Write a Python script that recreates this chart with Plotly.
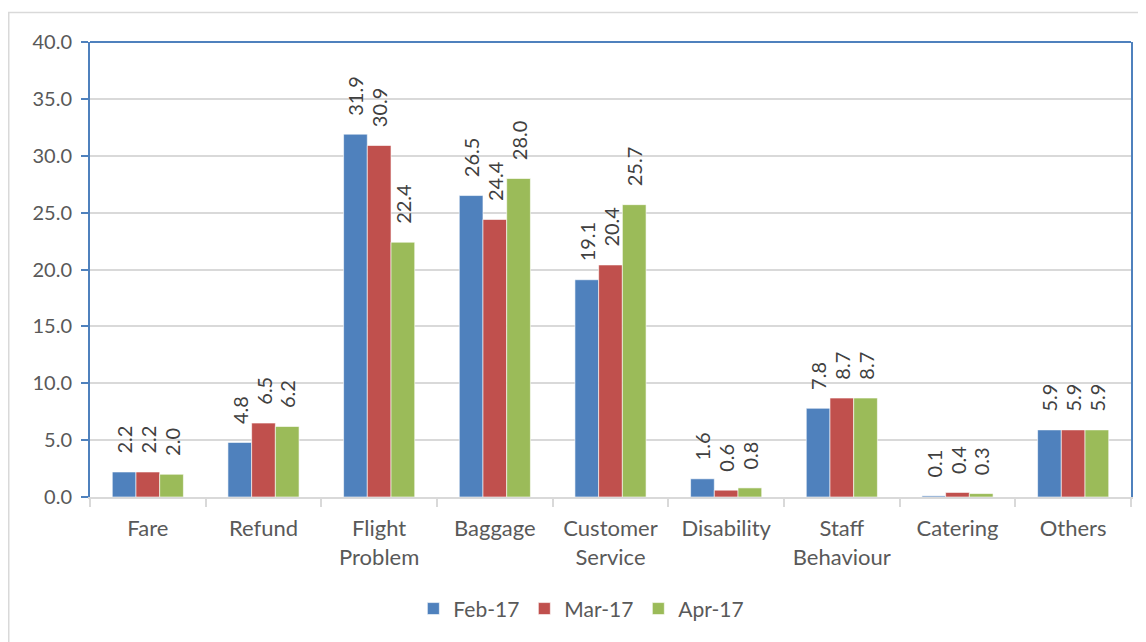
import plotly.graph_objects as go

categories = ["Fare", "Refund", "Flight<br>Problem", "Baggage", "Customer<br>Service",
              "Disability", "Staff<br>Behaviour", "Catering", "Others"]
feb17 = [2.2, 4.8, 31.9, 26.5, 19.1, 1.6, 7.8, 0.1, 5.9]
mar17 = [2.2, 6.5, 30.9, 24.4, 20.4, 0.6, 8.7, 0.4, 5.9]
apr17 = [2.0, 6.2, 22.4, 28.0, 25.7, 0.8, 8.7, 0.3, 5.9]
series_names = ["Feb-17", "Mar-17", "Apr-17"]
colors = ["#4F81BD", "#C0504D", "#9BBB59"]

FONT = "Lato"
# page body has an 8px margin, so the figure is drawn at (8, 8)
W, H = 1138, 634
ML, MR, MT, MB = 82, 15, 33.5, 144.5

fig = go.Figure()
for name, vals, col in zip(series_names, [feb17, mar17, apr17], colors):
    fig.add_trace(go.Bar(
        name=name, x=categories, y=vals,
        marker=dict(color=col, line=dict(color="rgba(255,255,255,0.6)", width=1)),
        text=["\u00a0\u00a0\u00a0" + f"{v:.1f}" for v in vals],
        textposition="outside", textangle=-90,
        textfont=dict(family=FONT, size=20, color="#404040"),
        cliponaxis=False, constraintext="none",
    ))

fig.update_layout(
    width=W, height=H,
    margin=dict(l=ML, r=MR, t=MT, b=MB),
    paper_bgcolor="white", plot_bgcolor="white",
    barmode="group", bargap=0.385, bargroupgap=0,
    font=dict(family=FONT, size=20, color="#595959"),
    legend=dict(orientation="h", x=0.472, xanchor="center", y=-0.246, yanchor="middle",
                font=dict(family=FONT, size=21, color="#595959"), traceorder="normal"),
)
fig.update_yaxes(
    range=[0, 40], dtick=5, tickformat=".1f",
    showgrid=True, gridcolor="#D9D9D9", gridwidth=1.5,
    showline=True, linecolor="#4F81BD", linewidth=2, mirror=True,
    ticks="outside", ticklen=7, tickcolor="#4F81BD", tickwidth=2,
    ticklabelstandoff=5,
    tickfont=dict(family=FONT, size=20, color="#595959"),
    zeroline=False,
)
fig.update_xaxes(
    showline=True, linecolor="#D9D9D9", linewidth=2,
    ticks="outside", tickson="boundaries", ticklen=8, tickcolor="#D9D9D9", tickwidth=2,
    ticklabelstandoff=11,
    tickfont=dict(family=FONT, size=22, color="#595959"),
)
# top border of plot area (blue)
fig.add_shape(type="line", xref="paper", yref="paper", x0=0, x1=1, y0=1, y1=1,
              line=dict(color="#4F81BD", width=2))
# outer chart border
pw, ph = W - ML - MR, H - MT - MB
fig.add_shape(type="rect", xref="paper", yref="paper",
              x0=(0.75 - ML) / pw, x1=(W + 5 - ML) / pw,
              y0=-(H + 5 - MT - ph) / ph, y1=1 + (MT - 4) / ph,
              line=dict(color="#D9D9D9", width=1.5), layer="below")

fig.write_html("out.html")
